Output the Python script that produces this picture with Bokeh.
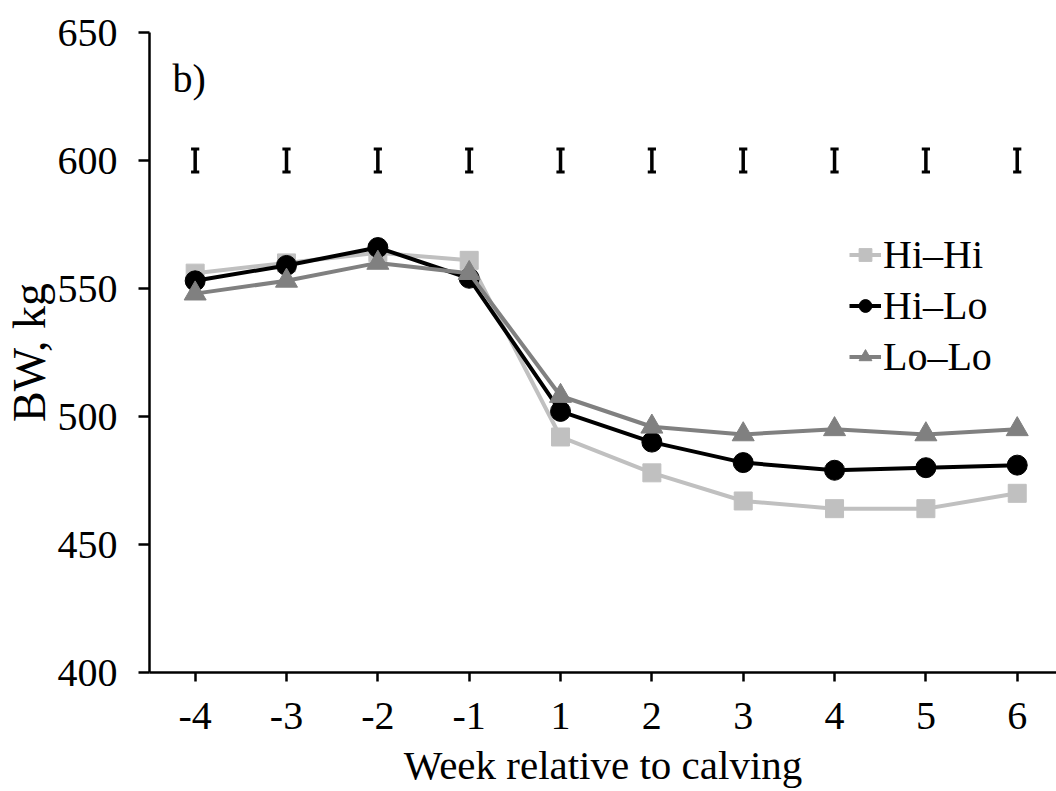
from bokeh.plotting import figure
from bokeh.models import (ColumnDataSource, Legend, LegendItem, FixedTicker,
                          Range1d, Label)
from bokeh.embed import file_html
from bokeh.resources import INLINE

weeks = ["-4", "-3", "-2", "-1", "1", "2", "3", "4", "5", "6"]
hi_hi = [556, 560, 564, 561, 492, 478, 467, 464, 464, 470]
hi_lo = [553, 559, 566, 554, 502, 490, 482, 479, 480, 481]
lo_lo = [548, 553, 560, 556, 508, 496, 493, 495, 493, 495]
se_center = [600] * 10
se_half = [4.5] * 10
y_ticks = [400, 450, 500, 550, 600, 650]

FONT = "Liberation Serif"
idx = list(range(len(weeks)))

p = figure(width=1056, height=791, output_backend="svg", toolbar_location=None,
           x_range=Range1d(-0.5, 9.43), y_range=Range1d(400, 650),
           min_border_left=149, min_border_right=0, min_border_top=32,
           min_border_bottom=119)
p.outline_line_color = None
p.xgrid.visible = False
p.ygrid.visible = False
p.background_fill_color = "white"
p.border_fill_color = "white"

# axes
p.yaxis.ticker = FixedTicker(ticks=y_ticks)
p.yaxis.minor_tick_line_color = None
p.yaxis.major_tick_in = 0
p.yaxis.major_tick_out = 11
p.yaxis.axis_line_width = 2.5
p.yaxis.major_tick_line_width = 2.5
p.yaxis.major_label_text_font = FONT
p.yaxis.major_label_text_font_size = "40px"
p.yaxis.major_label_text_color = "black"
p.yaxis.major_label_standoff = 21
p.yaxis.axis_label = "BW, kg"
p.yaxis.axis_label_text_font = FONT
p.yaxis.axis_label_text_font_size = "46px"
p.yaxis.axis_label_text_font_style = "normal"
p.yaxis.axis_label_text_color = "black"
p.yaxis.axis_label_standoff = 0

p.xaxis.ticker = FixedTicker(ticks=idx)
p.xaxis.major_label_overrides = {i: w for i, w in zip(idx, weeks)}
p.xaxis.minor_tick_line_color = None
p.xaxis.major_tick_in = 0
p.xaxis.major_tick_out = 9
p.xaxis.axis_line_width = 2.5
p.xaxis.major_tick_line_width = 2.5
p.xaxis.major_label_text_font = FONT
p.xaxis.major_label_text_font_size = "40px"
p.xaxis.major_label_text_color = "black"
p.xaxis.major_label_standoff = 21
p.xaxis.axis_label = "Week relative to calving"
p.xaxis.axis_label_text_font = FONT
p.xaxis.axis_label_text_font_size = "41px"
p.xaxis.axis_label_text_font_style = "normal"
p.xaxis.axis_label_text_color = "black"
p.xaxis.axis_label_standoff = 10

# SE bars
top = [c + h for c, h in zip(se_center, se_half)]
bot = [c - h for c, h in zip(se_center, se_half)]
p.segment(x0=idx, y0=bot, x1=idx, y1=top, line_color="black", line_width=3.5)
p.segment(x0=[i - 0.045 for i in idx], y0=top, x1=[i + 0.045 for i in idx], y1=top,
          line_color="black", line_width=3)
p.segment(x0=[i - 0.045 for i in idx], y0=bot, x1=[i + 0.045 for i in idx], y1=bot,
          line_color="black", line_width=3)

src = ColumnDataSource(dict(x=idx, hh=hi_hi, hl=hi_lo, ll=lo_lo))

l1 = p.line("x", "hh", source=src, line_color="#c0c0c0", line_width=4)
s1 = p.scatter("x", "hh", source=src, marker="square", size=18,
               fill_color="#c0c0c0", line_color="#c0c0c0")
l2 = p.line("x", "hl", source=src, line_color="black", line_width=4)
s2 = p.scatter("x", "hl", source=src, marker="circle", size=20,
               fill_color="black", line_color="black")
l3 = p.line("x", "ll", source=src, line_color="#808080", line_width=4)
s3 = p.scatter("x", "ll", source=src, marker="triangle", size=22,
               fill_color="#808080", line_color="#808080")

legend = Legend(items=[LegendItem(label="Hi\u2013Hi", renderers=[l1, s1]),
                       LegendItem(label="Hi\u2013Lo", renderers=[l2, s2]),
                       LegendItem(label="Lo\u2013Lo", renderers=[l3, s3])],
                location=(700, 290), orientation="vertical")
legend.label_text_font = FONT
legend.label_text_font_size = "40px"
legend.label_text_color = "black"
legend.label_standoff = 2
legend.glyph_width = 32
legend.glyph_height = 51
legend.label_height = 51
legend.spacing = 0
legend.padding = 0
legend.margin = 0
legend.border_line_color = None
legend.background_fill_alpha = 0
p.add_layout(legend)

p.add_layout(Label(x=23, y=594, x_units="screen", y_units="screen",
                   text="b)", text_font=FONT, text_font_size="40px",
                   text_color="black", text_baseline="alphabetic"))

open("out.html", "w").write(file_html(p, INLINE))
